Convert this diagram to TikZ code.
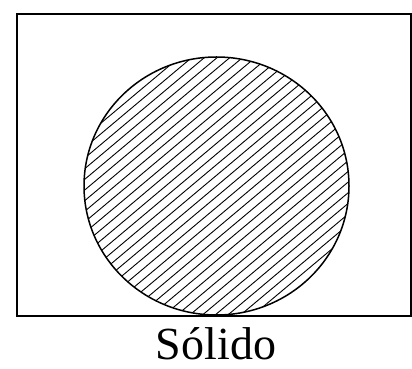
\documentclass[tikz,border=0pt]{standalone}
\usepackage{fontspec}
\setmainfont{Liberation Serif}

\begin{document}
\begin{tikzpicture}[x=1pt,y=1pt,
    frame/.style={line width=1.6pt},
    hatch/.style={line width=0.9pt},
    solid rim/.style={line width=1.5pt}]

\useasboundingbox (0,0) rectangle (412,369);

\draw[frame] (17,53) rectangle (411,355);

\begin{scope}
    \clip (216.5,183) ellipse [x radius=132.5, y radius=129];
    \foreach \i in {-18,...,18}{
        \draw[hatch] (216.5+\i*12.7-200,183-167.8) -- (216.5+\i*12.7+200,183+167.8);
    }
\end{scope}
\draw[solid rim] (216.5,183) ellipse [x radius=132.5, y radius=129];

\node[anchor=base,inner sep=0pt,font=\fontsize{46}{48}\selectfont] (lbl) at (216,9.5) {Sólido};

\end{tikzpicture}
\end{document}
